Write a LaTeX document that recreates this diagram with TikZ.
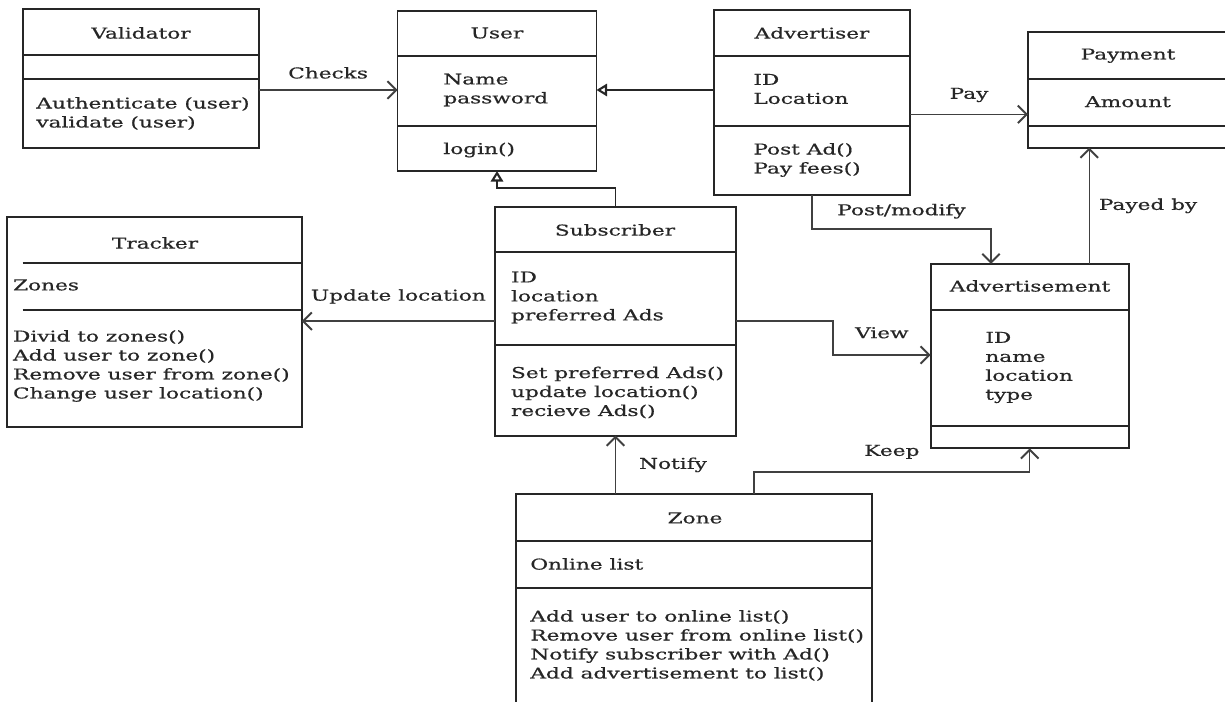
\documentclass[tikz,border=0pt]{standalone}
\usepackage{fontspec}
\setmainfont{DejaVu Serif}[FakeStretch=1.45, FakeBold=0.6]
\usetikzlibrary{arrows.meta}

\begin{document}
\begin{tikzpicture}[x=0.02cm, y=-0.02cm,
    font=\fontsize{8.5}{10.8}\selectfont,
    clase/.style={draw, black!85, line width=1.1pt, outer sep=0pt, inner sep=0pt},
    linea/.style={black!85, line width=1.1pt},
    txt/.style={inner sep=0pt, align=left, text=black!85},
    rel/.style={line width=0.9pt, black!75, -{Straight Barb[length=5pt,width=10pt,line width=1.1pt]}},
    hereda/.style={line width=0.9pt, black!85, -{Triangle[open,length=6pt,width=7pt,line width=1.2pt]}},
    etiq/.style={inner sep=1pt, text=black!85}]
    \useasboundingbox (0,0) rectangle (1225,702);

    % Validator
    \node[clase, minimum width=4.71cm, minimum height=2.77cm] (validator) at (141,78.5) {};
    \draw[linea] (23.3,55) -- (258.7,55);
    \draw[linea] (23.3,79.3) -- (258.7,79.3);
    \node[txt] (validatorT) at (141,33) {Validator};
    \node[txt, anchor=west] (validatorM) at (36,113.5) {Authenticate (user)\\validate (user)};

    % User
    \node[clase, minimum width=3.98cm, minimum height=3.2cm] (user) at (497,91) {};
    \draw[linea] (397,55.7) -- (597,55.7);
    \draw[linea] (397,125.7) -- (597,125.7);
    \node[txt] (userT) at (497,33) {User};
    \node[txt, anchor=west] (userA) at (443,90) {Name\\password};
    \node[txt, anchor=west] (userM) at (443,150) {login()};

    % Advertiser
    \node[clase, minimum width=3.92cm, minimum height=3.7cm] (advertiser) at (812,102.5) {};
    \draw[linea] (714,55.7) -- (910,55.7);
    \draw[linea] (714,125.7) -- (910,125.7);
    \node[txt] (advertiserT) at (812,33) {Advertiser};
    \node[txt, anchor=west] (advertiserA) at (753,89) {ID\\Location};
    \node[txt, anchor=west] (advertiserM) at (753,160) {Post Ad()\\Pay fees()};

    % Payment
    \node[clase, minimum width=4.24cm, minimum height=2.32cm] (payment) at (1134,89.7) {};
    \draw[linea] (1028,79.3) -- (1240,79.3);
    \draw[linea] (1028,125.7) -- (1240,125.7);
    \node[txt] (paymentT) at (1128,55.7) {Payment};
    \node[txt] (paymentA) at (1128,101.7) {Amount};

    % Tracker
    \node[clase, minimum width=5.89cm, minimum height=4.19cm] (tracker) at (154.5,322) {};
    \draw[linea] (22.7,263.3) -- (301.7,263.3);
    \draw[linea] (22.7,310) -- (301.7,310);
    \node[txt] (trackerT) at (155,243) {Tracker};
    \node[txt, anchor=west] (trackerA) at (12.7,285) {Zones};
    \node[txt, anchor=west] (trackerM) at (12.7,366) {Divid to zones()\\Add user to zone()\\Remove user from zone()\\Change user location()};

    % Subscriber
    \node[clase, minimum width=4.82cm, minimum height=4.58cm] (subscriber) at (615.5,321.2) {};
    \draw[linea] (495,252) -- (736,252);
    \draw[linea] (495,345) -- (736,345);
    \node[txt] (subscriberT) at (615,230) {Subscriber};
    \node[txt, anchor=west] (subscriberA) at (510.7,297.5) {ID\\location\\preferred Ads};
    \node[txt, anchor=west] (subscriberM) at (510.7,392.5) {Set preferred Ads()\\update location()\\recieve Ads()};

    % Advertisement
    \node[clase, minimum width=3.96cm, minimum height=3.69cm] (advertisement) at (1029.7,356.2) {};
    \draw[linea] (930.7,310) -- (1128.7,310);
    \draw[linea] (930.7,425.7) -- (1128.7,425.7);
    \node[txt] (advertisementT) at (1030,286) {Advertisement};
    \node[txt, anchor=west] (advertisementA) at (985,367.5) {ID\\name\\location\\type};

    % Zone
    \node[clase, minimum width=7.12cm, minimum height=4.42cm] (zone) at (694,604.5) {};
    \draw[linea] (516,541) -- (872,541);
    \draw[linea] (516,588) -- (872,588);
    \node[txt] (zoneT) at (695,518) {Zone};
    \node[txt, anchor=west] (zoneA) at (530,564) {Online list};
    \node[txt, anchor=west] (zoneM) at (530,645.5) {Add user to online list()\\Remove user from online list()\\Notify subscriber with Ad()\\Add advertisement to list()};

    % Relaciones
    \draw[rel] (validator.east |- 0,90) -- (user.west |- 0,90)
        node[etiq, midway, above=5pt] (lchecks) {Checks};
    \draw[hereda] (advertiser.west |- 0,90) -- (user.east |- 0,90);
    \draw[hereda] (subscriber.north) -- ++(0,-18.7) -| (user.south);
    \draw[rel] (advertiser.east |- 0,114.3) -- (payment.west |- 0,114.3)
        node[etiq, midway, above=5.5pt] (lpay) {Pay};
    \draw[rel] (advertiser.south) |- (991,229)
        node[etiq, pos=0.75, above=4.5pt] (lpost) {Post/modify}
        -- (advertisement.north -| 991,0);
    \draw[rel] (advertisement.north -| 1089.3,0) -- (payment.south -| 1089.3,0)
        node[etiq, midway, right=4pt] (lpayed) {Payed by};
    \draw[rel] (subscriber.west) -- (tracker.east |- subscriber.west)
        node[etiq, midway, above=8.5pt] (lupdate) {Update location};
    \draw[rel] (subscriber.east) -- (833,321.2) |- (advertisement.west |- 0,355)
        node[etiq, pos=0.75, above=8pt] (lview) {View};
    \draw[rel] (subscriber.south |- zone.north) -- (subscriber.south)
        node[etiq, midway, right=12pt] (lnotify) {Notify};
    \draw[rel] (zone.north -| 754,0) -- (754,472) -| (advertisement.south)
        node[etiq, pos=0.25, above=6pt] (lkeep) {Keep};
\end{tikzpicture}
\end{document}
